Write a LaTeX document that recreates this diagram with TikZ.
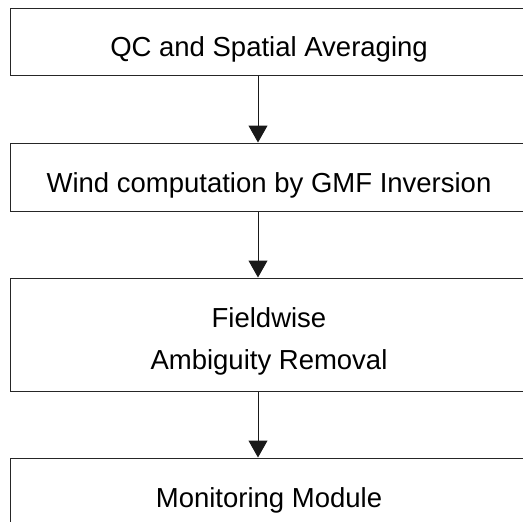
\documentclass[tikz,border=0pt]{standalone}
\usepackage{fontspec}
\setmainfont{Liberation Sans}
\usetikzlibrary{arrows.meta}
\tikzset{
  stage/.style={draw=black!85,line width=1pt,rectangle,minimum width=518pt,inner sep=0pt,
    font=\fontsize{27.5}{33}\selectfont,text height=30pt,text depth=0pt},
  flow/.style={-{Triangle[length=17pt,width=19pt]},line width=1pt,draw=black!90}
}
\begin{document}
\begin{tikzpicture}[x=1pt,y=-1pt]
\useasboundingbox (0,0) rectangle (523,522);
\clip (0,0) rectangle (523,522);
\node[stage,minimum height=67pt] at (269,41.5) (qc) {QC and Spatial Averaging};
\node[stage,minimum height=68pt] at (269,177) (wind) {Wind computation by GMF Inversion};
\node[stage,minimum height=113pt,align=center,text height=69pt] at (269,334.5) (amb) {Fieldwise\\[9pt]Ambiguity Removal};
\node[stage,minimum height=68pt] at (269,492) (mon) {Monitoring Module};
\draw[flow] ([xshift=-11pt]qc.south) -- ([xshift=-11pt]wind.north);
\draw[flow] ([xshift=-11pt]wind.south) -- ([xshift=-11pt]amb.north);
\draw[flow] ([xshift=-11pt]amb.south) -- ([xshift=-11pt]mon.north);
\end{tikzpicture}
\end{document}
